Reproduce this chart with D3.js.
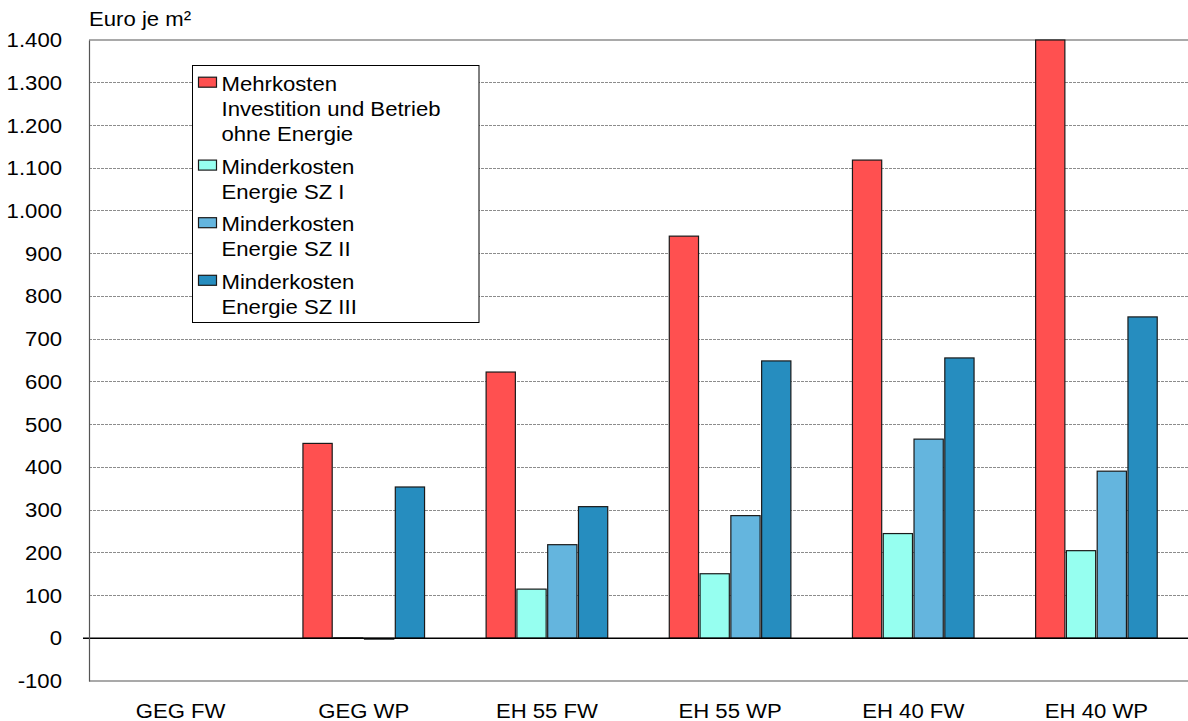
<!DOCTYPE html>
<html lang="de">
<head>
<meta charset="utf-8">
<script src="https://cdn.jsdelivr.net/npm/d3@7"></script>
<style>
  html, body { margin: 0; padding: 0; background: #fff; }
  svg { display: block; font-family: Arial, "Liberation Sans", sans-serif; }
</style>
</head>
<body>
<svg id="chart" width="1188" height="721"></svg>
<script>
// Gebäudestandards (Kategorien der x-Achse)
const categories = ["GEG FW", "GEG WP", "EH 55 FW", "EH 55 WP", "EH 40 FW", "EH 40 WP"];

// Werte in Euro je m²
const mehrkosten   = [0, 456, 623, 941, 1119, 1400];
const minderSZI    = [0, 1, 115, 151, 245, 205];
const minderSZII   = [0, -2, 219, 287, 466, 391];
const minderSZIII  = [0, 354, 308, 649, 656, 752];

const seriesKeys = ["mehr", "sz1", "sz2", "sz3"];
const seriesValues = [mehrkosten, minderSZI, minderSZII, minderSZIII];
const seriesLabels = [
  ["Mehrkosten", "Investition und Betrieb", "ohne Energie"],
  ["Minderkosten", "Energie SZ I"],
  ["Minderkosten", "Energie SZ II"],
  ["Minderkosten", "Energie SZ III"]
];
const seriesColors = ["#ff5050", "#96fff0", "#64b5de", "#268dbf"];

const yTicks = [-100, 0, 100, 200, 300, 400, 500, 600, 700, 800, 900, 1000, 1100, 1200, 1300, 1400];
const yTitle = "Euro je m²";

// Layout
const plot = { left: 89, right: 1188, top: 40, bottom: 681 };
const fontSize = 20.5;
const stretch = 1.08; // etwas breitere Schrift
const svg = d3.select("#chart");

const de = d3.formatLocale({ decimal: ",", thousands: ".", grouping: [3], currency: ["", " €"], minus: "-" });
const fmt = de.format(",");

const y = d3.scaleLinear().domain([-100, 1400]).range([plot.bottom, plot.top]);
const x0 = d3.scaleBand().domain(categories).range([plot.left, plot.right]);
const groupSpan = 121.6;
const x1 = d3.scaleBand().domain(seriesKeys).range([-groupSpan / 2, groupSpan / 2]).paddingInner(0.05);

// Gitternetzlinien
svg.append("g")
  .selectAll("line")
  .data(yTicks.filter(v => v !== 0 && v !== -100 && v !== 1400))
  .join("line")
  .attr("x1", plot.left).attr("x2", plot.right)
  .attr("y1", d => y(d)).attr("y2", d => y(d))
  .attr("stroke", "#8c8c8c").attr("stroke-width", 1)
  .attr("stroke-dasharray", "3,1")
  .attr("shape-rendering", "crispEdges");

// Rahmen oben und unten
svg.append("g")
  .selectAll("line")
  .data([1400, -100])
  .join("line")
  .attr("x1", plot.left).attr("x2", plot.right)
  .attr("y1", d => y(d)).attr("y2", d => y(d))
  .attr("stroke", "#555").attr("stroke-width", 1.2);

// Balken
const rows = categories.map((c, i) => ({ cat: c, vals: seriesKeys.map((k, j) => ({ key: k, value: seriesValues[j][i], color: seriesColors[j] })) }));

const groups = svg.append("g")
  .selectAll("g")
  .data(rows)
  .join("g")
  .attr("transform", d => `translate(${x0(d.cat) + x0.bandwidth() / 2},0)`);

groups.selectAll("rect")
  .data(d => d.vals)
  .join("rect")
  .attr("x", d => x1(d.key))
  .attr("width", x1.bandwidth())
  .attr("y", d => y(Math.max(0, d.value)))
  .attr("height", d => Math.abs(y(d.value) - y(0)))
  .attr("fill", d => d.color)
  .attr("stroke", "#1a1a1a")
  .attr("stroke-width", 1.2);

// Nulllinie
svg.append("line")
  .attr("x1", plot.left - 6).attr("x2", plot.right)
  .attr("y1", y(0)).attr("y2", y(0))
  .attr("stroke", "#000").attr("stroke-width", 1.3);

// y-Achse
const yAxis = svg.append("g")
  .attr("transform", `translate(${plot.left},0)`)
  .call(d3.axisLeft(y).tickValues(yTicks).tickFormat(fmt).tickSize(0).tickPadding(27));
yAxis.select(".domain").attr("stroke", "#555").attr("stroke-width", 1.2);
yAxis.selectAll("text")
  .attr("font-size", fontSize).attr("fill", "#000")
  .attr("font-family", "Arial, 'Liberation Sans', sans-serif")
  .attr("x", -27 / stretch)
  .attr("transform", `scale(${stretch},1)`);

// x-Achse
const xAxis = svg.append("g")
  .attr("transform", `translate(0,${plot.bottom})`)
  .call(d3.axisBottom(x0).tickSize(0).tickPadding(22));
xAxis.select(".domain").remove();
xAxis.selectAll("text")
  .attr("font-size", fontSize).attr("fill", "#000")
  .attr("font-family", "Arial, 'Liberation Sans', sans-serif")
  .attr("transform", `scale(${stretch},1)`);

// Achsentitel
svg.append("text")
  .attr("transform", `translate(89,26) scale(${stretch},1)`)
  .attr("font-size", fontSize)
  .attr("fill", "#000")
  .text(yTitle);

// Legende
const legend = svg.append("g");
legend.append("rect")
  .attr("x", 192.5).attr("y", 65.5)
  .attr("width", 286.5).attr("height", 257)
  .attr("fill", "#fff").attr("stroke", "#000").attr("stroke-width", 1);

let baseline = 90.7;
const lineH = 25.3;
seriesLabels.forEach((lines, i) => {
  legend.append("rect")
    .attr("x", 198.5).attr("y", baseline - 13.5)
    .attr("width", 18).attr("height", 10)
    .attr("fill", seriesColors[i])
    .attr("stroke", "#1a1a1a").attr("stroke-width", 1.2);
  const t = legend.append("text")
    .attr("transform", `translate(221.5,${baseline}) scale(${stretch},1)`)
    .attr("font-size", fontSize).attr("fill", "#000");
  lines.forEach((ln, k) => {
    t.append("tspan").attr("x", 0).attr("y", k * lineH).text(ln);
  });
  baseline += (lines.length - 1) * lineH + 32.3;
});
</script>
</body>
</html>
